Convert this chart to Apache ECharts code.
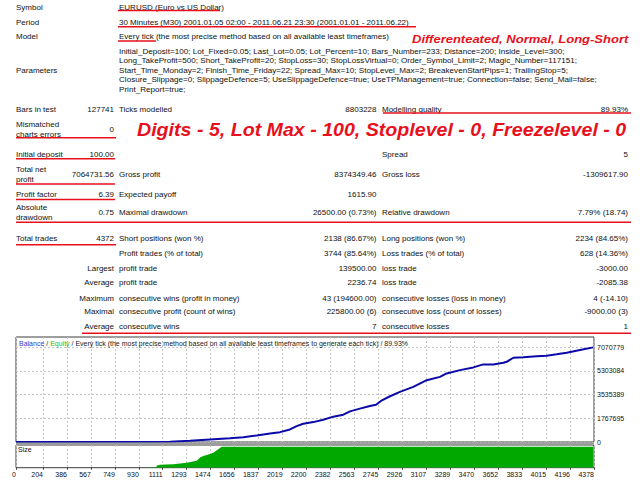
<html lang="en">
<head>
<meta charset="UTF-8">
<title>Strategy Tester Report</title>
<script src="https://cdn.jsdelivr.net/npm/echarts@6/dist/echarts.min.js"></script>
<style>
  html, body { margin: 0; padding: 0; background: #fff; }
  #chart { width: 640px; height: 480px; }
</style>
</head>
<body>
<div id="chart"></div>
<script>
// ---- report texts ----
const headerRows = [
  ['Symbol', 'EURUSD (Euro vs US Dollar)'],
  ['Period', '30 Minutes (M30) 2001.01.05 02:00 - 2011.06.21 23:30 (2001.01.01 - 2011.06.22)'],
  ['Model', 'Every tick (the most precise method based on all available least timeframes)']
];
const paramLines = [
  'Initial_Deposit=100; Lot_Fixed=0.05; Last_Lot=0.05; Lot_Percent=10; Bars_Number=233; Distance=200; Inside_Level=300;',
  'Long_TakeProfit=500; Short_TakeProfit=20; StopLoss=30; StopLossVirtual=0; Order_Symbol_Limit=2; Magic_Number=117151;',
  'Start_Time_Monday=2; Finish_Time_Friday=22; Spread_Max=10; StopLevel_Max=2; BreakevenStartPips=1; TrailingStop=5;',
  'Closure_Slippage=0; SlippageDefence=5; UseSlippageDefence=true; UseTPManagement=true; Connection=false; Send_Mail=false;',
  'Print_Report=true;'
];
// label, value, label, value, label, value
const reportRows = [
  ['Bars in test', '127741', 'Ticks modelled', '8803228', 'Modelling quality', '89.93%'],
  ['Mismatched\ncharts errors', '0', '', '', '', ''],
  ['Initial deposit', '100.00', '', '', 'Spread', '5'],
  ['Total net\nprofit', '7064731.56', 'Gross profit', '8374349.46', 'Gross loss', '-1309617.90'],
  ['Profit factor', '6.39', 'Expected payoff', '1615.90', '', ''],
  ['Absolute\ndrawdown', '0.75', 'Maximal drawdown', '26500.00 (0.73%)', 'Relative drawdown', '7.79% (18.74)'],
  ['Total trades', '4372', 'Short positions (won %)', '2138 (86.67%)', 'Long positions (won %)', '2234 (84.65%)'],
  ['', '', 'Profit trades (% of total)', '3744 (85.64%)', 'Loss trades (% of total)', '628 (14.36%)'],
  ['', 'Largest', 'profit trade', '139500.00', 'loss trade', '-3000.00'],
  ['', 'Average', 'profit trade', '2236.74', 'loss trade', '-2085.38'],
  ['', 'Maximum', 'consecutive wins (profit in money)', '43 (194600.00)', 'consecutive losses (loss in money)', '4 (-14.10)'],
  ['', 'Maximal', 'consecutive profit (count of wins)', '225800.00 (6)', 'consecutive loss (count of losses)', '-9000.00 (3)'],
  ['', 'Average', 'consecutive wins', '7', 'consecutive losses', '1']
];
const noteSmall = 'Differenteated, Normal, Long-Short';
const noteBig = 'Digits - 5, Lot Max - 100, Stoplevel - 0, Freezelevel - 0';
const chartTitle = ['Balance', 'Equity', 'Every tick (the most precise method based on all available least timeframes to generate each tick) / 89.93%'];

// ---- chart data ----
const xTicks = [0, 204, 386, 567, 749, 930, 1111, 1293, 1474, 1656, 1837, 2019, 2200,
  2382, 2563, 2745, 2926, 3107, 3289, 3470, 3652, 3833, 4015, 4196, 4378];
const yTicks = [0, 1767695, 3535389, 5303084, 7070779];
const balanceTrades = [0, 1166, 1318, 1469, 1621, 1722, 1823, 1924, 2000, 2075, 2126, 2176, 2252,
  2327, 2403, 2479, 2530, 2605, 2681, 2727, 2772, 2833, 2908, 3009, 3111, 3211, 3262, 3363,
  3464, 3539, 3615, 3691, 3717, 3767, 3842, 3944, 4019, 4095, 4171, 4272, 4372];
const balanceValues = [100, 15000, 90000, 187000, 285000, 360000, 488000, 638000, 735000, 938000,
  1186000, 1366000, 1486000, 1666000, 1892000, 2042000, 2289000, 2492000, 2687000, 2777000,
  3115000, 3415000, 3738000, 4113000, 4616000, 4864000, 5119000, 5367000, 5570000, 5795000,
  5795000, 5915000, 5990000, 6290000, 6320000, 6395000, 6440000, 6545000, 6665000, 6868000, 7064831];
const sizeTrades = [0, 962, 964, 1064, 1066, 1091, 1191, 1293, 1369, 1394, 1419, 1469, 1495, 1545, 1558, 4372];
const sizeLots = [0, 0, 2, 2, 11, 14, 17, 24, 33, 48, 56, 65, 71, 94, 100, 100];

// ---- layout ----
const FONT = '"Liberation Sans", Arial, sans-serif';
const RED = '#e8101c';
const X_LBL = 16, X_V1 = 114, X_C2 = 119, X_V2 = 376.5, X_C3 = 382, X_V3 = 628;
const headerY = [7, 22, 36];
const paramY0 = 51.5, paramStep = 9.45;
const rowY = [109, 129, 154, 174, 194, 212.5, 238.3, 253.3, 268.3, 282.7, 298.3, 311.7, 326.7];
const underlines = [
  [118, 220, 10.5], [118, 416, 26.7], [118, 156, 41], [383, 631, 113],
  [16, 116, 137.7], [16, 115, 158.8], [16, 115, 184], [16, 115, 199.6],
  [16, 631, 222.3], [16, 116, 244.8], [82, 631, 333.3]
];

function txt(x, y, s, align, extra) {
  return Object.assign({
    type: 'text', x: x, y: y, silent: true,
    style: {
      text: s, fill: '#111', font: '8px ' + FONT, lineHeight: 10,
      textAlign: align || 'left', align: align || 'left',
      textVerticalAlign: 'middle', verticalAlign: 'middle'
    }
  }, extra || {});
}

const graphics = [];
headerRows.forEach(function (r, i) {
  graphics.push(txt(X_LBL, headerY[i], r[0]));
  graphics.push(txt(X_C2, headerY[i], r[1]));
});
graphics.push(txt(X_LBL, paramY0 + paramStep * 2, 'Parameters'));
paramLines.forEach(function (l, i) {
  const t = txt(X_C2, paramY0 + paramStep * i, l, 'left', { scaleX: 1.015 });
  graphics.push(t);
});
reportRows.forEach(function (r, i) {
  const y = rowY[i];
  if (r[0]) graphics.push(txt(X_LBL, y, r[0]));
  if (r[1]) graphics.push(txt(X_V1, y, r[1], 'right'));
  if (r[2]) graphics.push(txt(X_C2, y, r[2]));
  if (r[3]) graphics.push(txt(X_V2, y, r[3], 'right'));
  if (r[4]) graphics.push(txt(X_C3, y, r[4]));
  if (r[5]) graphics.push(txt(X_V3, y, r[5], 'right'));
});
underlines.forEach(function (u) {
  graphics.push({
    type: 'line', silent: true,
    shape: { x1: u[0], y1: u[2], x2: u[1], y2: u[2] },
    style: { stroke: RED, lineWidth: 1.5 }
  });
});
const noteA = txt(412, 39.5, noteSmall, 'left', { scaleX: 1.13 });
noteA.style.font = 'italic bold 11.5px ' + FONT;
noteA.style.fill = RED;
graphics.push(noteA);
const noteB = txt(137, 130, noteBig, 'left', { scaleX: 1.09 });
noteB.style.font = 'italic bold 18px ' + FONT;
noteB.style.fill = RED;
graphics.push(noteB);

// chart panel decorations
graphics.push({
  type: 'rect', silent: true, z: 10,
  shape: { x: 16, y: 442.5, width: 578, height: 2.5 },
  style: { fill: '#9c9c9c' }
});
graphics.push({
  type: 'text', x: 19, y: 343.5, silent: true, z: 20,
  style: {
    text: '{b|' + chartTitle[0] + '} / {e|' + chartTitle[1] + '} / ' + chartTitle[2],
    font: '7px ' + FONT, fill: '#222',
    textAlign: 'left', align: 'left', textVerticalAlign: 'middle', verticalAlign: 'middle',
    rich: {
      b: { fill: '#3a3ad0', font: '7px ' + FONT },
      e: { fill: '#22bb22', font: '7px ' + FONT }
    }
  }
});
graphics.push(txt(18, 449.5, 'Size', 'left', { z: 20 }));
graphics[graphics.length - 1].style.font = '7px ' + FONT;

const dashed = { show: true, lineStyle: { color: '#c4c4c4', type: [2, 2], width: 1 } };
const plain = function (v) { return String(v); };

const myChart = echarts.init(document.getElementById('chart'), null, { renderer: 'svg' });
const option = {
  animation: false,
  backgroundColor: '#fff',
  grid: [
    { left: 16, top: 337, width: 578, height: 105, show: true, borderColor: '#3c3c3c', borderWidth: 1, backgroundColor: '#fff' },
    { left: 16, top: 445, width: 578, height: 22.7, show: true, borderColor: '#3c3c3c', borderWidth: 1, backgroundColor: '#fff' }
  ],
  xAxis: [
    {
      type: 'value', gridIndex: 0, min: 0, max: 4378,
      axisLine: { show: false }, axisLabel: { show: false },
      axisTick: { show: false, customValues: xTicks },
      splitLine: dashed
    },
    {
      type: 'value', gridIndex: 1, min: 0, max: 4378,
      axisLine: { show: false },
      axisTick: { show: true, length: 2, lineStyle: { color: '#3c3c3c' }, customValues: xTicks },
      axisLabel: {
        customValues: xTicks, align: 'right', margin: 3, formatter: plain,
        fontSize: 7, fontFamily: FONT, color: '#111',
        showMinLabel: true, showMaxLabel: true
      },
      splitLine: dashed
    }
  ],
  yAxis: [
    {
      type: 'value', gridIndex: 0, position: 'right', min: 0, max: 7840000,
      axisLine: { show: false },
      axisTick: { show: false, customValues: yTicks },
      axisLabel: {
        customValues: yTicks, align: 'left', margin: 3, formatter: plain,
        fontSize: 7, fontFamily: FONT, color: '#111'
      },
      splitLine: dashed
    },
    {
      type: 'value', gridIndex: 1, min: 0, max: 108,
      axisLine: { show: false }, axisTick: { show: false },
      axisLabel: { show: false }, splitLine: { show: false }
    }
  ],
  series: [
    {
      type: 'line', name: 'Size', xAxisIndex: 1, yAxisIndex: 1,
      data: sizeTrades.map(function (t, i) { return [t, sizeLots[i]]; }),
      symbol: 'none', lineStyle: { width: 0 },
      areaStyle: { color: '#00a800', opacity: 1 }
    },
    {
      type: 'line', name: 'Balance', xAxisIndex: 0, yAxisIndex: 0,
      data: balanceTrades.map(function (t, i) { return [t, balanceValues[i]]; }),
      symbol: 'none', lineStyle: { color: '#0a0aa8', width: 2 }, z: 5
    }
  ],
  graphic: graphics
};
myChart.setOption(option);
</script>
</body>
</html>
